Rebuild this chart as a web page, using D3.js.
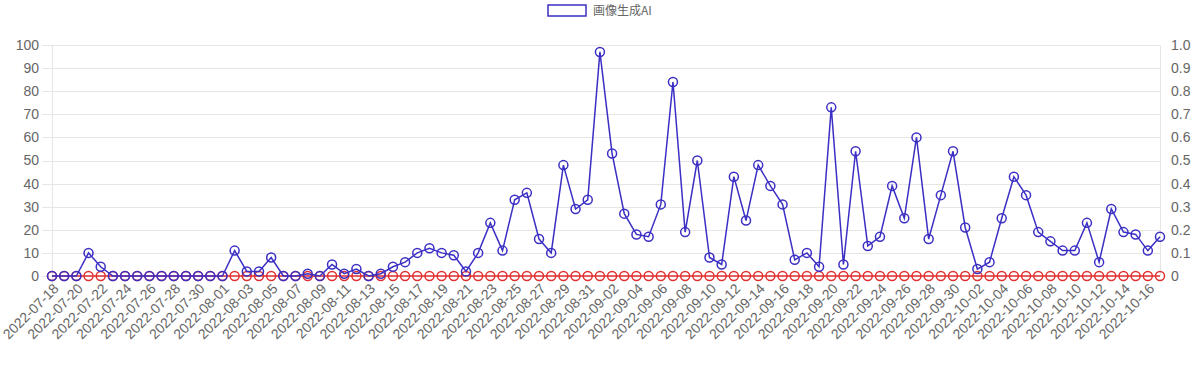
<!DOCTYPE html>
<html>
<head>
<meta charset="utf-8">
<script src="https://cdn.jsdelivr.net/npm/d3@7"></script>
<style>
  body { margin: 0; background: #fff; }
  svg { display: block; font-family: "Liberation Sans", Arial, sans-serif; }
  .grid line { stroke: #e6e6e6; stroke-width: 1; }
  .axis text { fill: #666; font-size: 14px; }
</style>
</head>
<body>
<div id="chart"></div>
<script>
// data
var startDate = "2022-07-18";
var dayCount = 92;
var imageAI = [0, 0, 0, 10, 4, 0, 0, 0, 0, 0, 0, 0, 0, 0, 0, 11, 2, 2, 8, 0,
  0, 1, 0, 5, 1, 3, 0, 1, 4, 6, 10, 12, 10, 9, 2, 10, 23, 11, 33, 36,
  16, 10, 48, 29, 33, 97, 53, 27, 18, 17, 31, 84, 19, 50, 8, 5, 43, 24, 48, 39,
  31, 7, 10, 4, 73, 5, 54, 13, 17, 39, 25, 60, 16, 35, 54, 21, 3, 6, 25, 43,
  35, 19, 15, 11, 11, 23, 6, 29, 19, 18, 11, 17];
var otherSeries = imageAI.map(function() { return 0; });
var leftTicks = [0, 10, 20, 30, 40, 50, 60, 70, 80, 90, 100];
var rightTicks = [0, 0.1, 0.2, 0.3, 0.4, 0.5, 0.6, 0.7, 0.8, 0.9, 1.0];
var legendLabel = "画像生成AI";

var fmt = d3.timeFormat("%Y-%m-%d");
var start = d3.timeParse("%Y-%m-%d")(startDate);
var dates = d3.range(dayCount).map(function(i) { return fmt(d3.timeDay.offset(start, i)); });

var width = 1200, height = 369;
var plotLeft = 52, plotRight = 1160, plotTop = 45, plotBottom = 276;

var svg = d3.select("#chart").append("svg")
  .attr("width", width)
  .attr("height", height);

var xScale = d3.scalePoint().domain(dates).range([plotLeft, plotRight]);
var yScale = d3.scaleLinear().domain([0, 100]).range([plotBottom, plotTop]);
var yRight = d3.scaleLinear().domain([0, 1]).range([plotBottom, plotTop]);

// grid lines
svg.append("g").attr("class", "grid")
  .selectAll("line")
  .data(leftTicks)
  .enter().append("line")
  .attr("x1", plotLeft - 10)
  .attr("x2", plotRight)
  .attr("y1", function(d) { return Math.round(yScale(d)) + 0.5; })
  .attr("y2", function(d) { return Math.round(yScale(d)) + 0.5; });

svg.append("line")
  .attr("x1", plotLeft + 0.5).attr("x2", plotLeft + 0.5)
  .attr("y1", plotTop).attr("y2", plotBottom + 8)
  .attr("stroke", "#e6e6e6");
svg.append("line")
  .attr("x1", plotRight + 0.5).attr("x2", plotRight + 0.5)
  .attr("y1", plotTop).attr("y2", plotBottom)
  .attr("stroke", "#e6e6e6");

// left axis labels
svg.append("g").attr("class", "axis")
  .selectAll("text")
  .data(leftTicks)
  .enter().append("text")
  .attr("x", plotLeft - 13)
  .attr("y", function(d) { return yScale(d); })
  .attr("dy", "0.35em")
  .attr("text-anchor", "end")
  .text(function(d) { return d; });

// right axis labels
svg.append("g").attr("class", "axis")
  .selectAll("text")
  .data(rightTicks)
  .enter().append("text")
  .attr("x", plotRight + 11)
  .attr("y", function(d) { return yRight(d); })
  .attr("dy", "0.35em")
  .attr("text-anchor", "start")
  .text(function(d) { return d === 0 ? "0" : d.toFixed(1); });

// x labels, every other day
svg.append("g").attr("class", "axis")
  .selectAll("text")
  .data(dates.filter(function(d, i) { return i % 2 === 0; }))
  .enter().append("text")
  .attr("text-anchor", "end")
  .attr("transform", function(d) {
    return "translate(" + (xScale(d) + 4) + "," + (plotBottom + 10) + ") rotate(-45)";
  })
  .attr("dy", "0.35em")
  .text(function(d) { return d; });

var line = d3.line()
  .x(function(d, i) { return xScale(dates[i]); });

function drawSeries(values, scale, color) {
  svg.append("path")
    .datum(values)
    .attr("fill", "none")
    .attr("stroke", color)
    .attr("stroke-width", 1.5)
    .attr("d", line.y(function(d) { return scale(d); }));

  svg.append("g")
    .selectAll("circle")
    .data(values)
    .enter().append("circle")
    .attr("cx", function(d, i) { return xScale(dates[i]); })
    .attr("cy", function(d) { return scale(d); })
    .attr("r", 4.5)
    .attr("fill", "none")
    .attr("stroke", color)
    .attr("stroke-width", 1.5);
}

drawSeries(otherSeries, yRight, "#e03030");
drawSeries(imageAI, yScale, "#3b2fc4");

// legend
svg.append("rect")
  .attr("x", 548).attr("y", 5)
  .attr("width", 38).attr("height", 11)
  .attr("fill", "#fff")
  .attr("stroke", "#3b2fc4")
  .attr("stroke-width", 1.5);
svg.append("text")
  .attr("x", 593).attr("y", 11)
  .attr("dy", "0.35em")
  .attr("fill", "#666")
  .style("font-size", "12px")
  .style("font-family", "'Noto Sans CJK JP', sans-serif")
  .text(legendLabel);
</script>
</body>
</html>
